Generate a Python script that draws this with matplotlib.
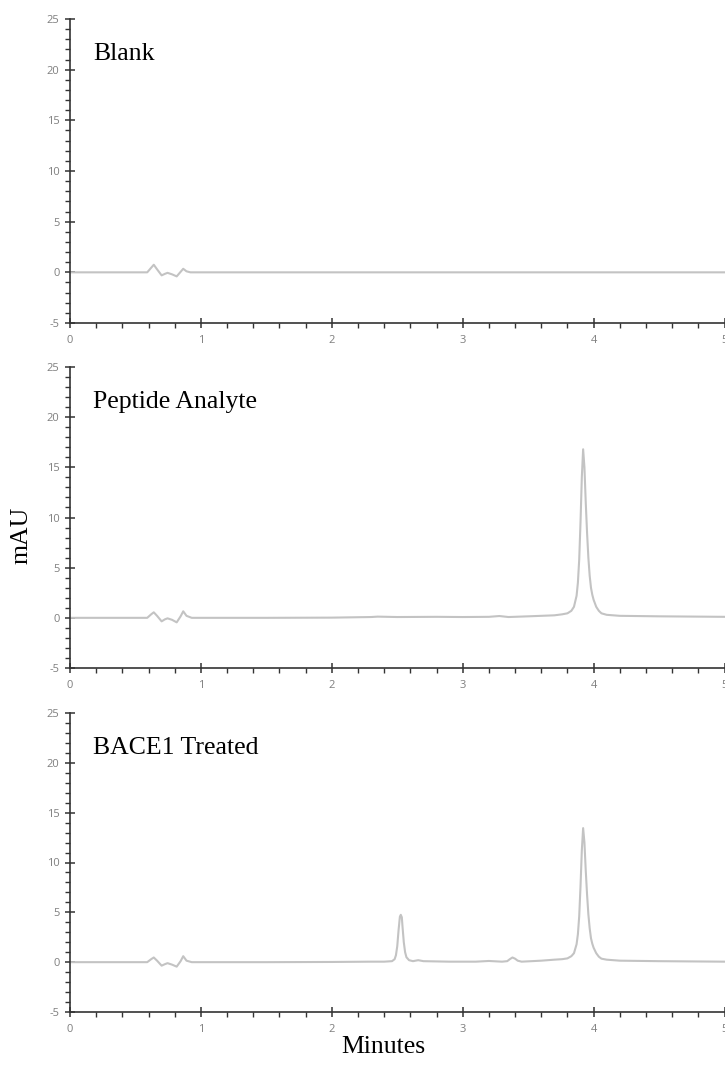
import matplotlib
matplotlib.use("Agg")
import matplotlib.pyplot as plt
from matplotlib.ticker import MultipleLocator

plt.rcParams["axes.unicode_minus"] = False

# ---------------- data ----------------
panel_titles = ["Blank", "Peptide Analyte", "BACE1 Treated"]

blank_t = [0.00, 0.50, 0.59, 0.62, 0.64, 0.665, 0.70, 0.725, 0.745, 0.78, 0.815, 0.845, 0.865, 0.89, 0.92, 1.5, 2.5, 3.5, 4.5, 5.0]
blank_y = [0.00, 0.00, 0.00, 0.45, 0.75, 0.30, -0.30, -0.15, -0.05, -0.20, -0.40, 0.05, 0.35, 0.10, 0.00, 0.00, 0.00, 0.00, 0.00, 0.00]

peptide_t = [0.00, 0.50, 0.59, 0.62, 0.64, 0.665, 0.70, 0.725, 0.745, 0.78, 0.815, 0.845, 0.865, 0.89, 0.93,
             1.5, 2.0, 2.3, 2.35, 2.5, 2.8, 3.0, 3.2, 3.28, 3.35, 3.5, 3.60, 3.70, 3.76, 3.80, 3.83, 3.85,
             3.87, 3.88, 3.89, 3.90, 3.91, 3.92, 3.93, 3.94, 3.95, 3.96, 3.97, 3.98, 3.99, 4.00,
             4.02, 4.04, 4.06, 4.10, 4.20, 4.50, 5.00]
peptide_y = [0.00, 0.00, 0.00, 0.35, 0.55, 0.20, -0.35, -0.15, -0.05, -0.20, -0.45, 0.15, 0.65, 0.20, 0.00,
             0.00, 0.02, 0.08, 0.12, 0.08, 0.10, 0.08, 0.10, 0.18, 0.08, 0.15, 0.20, 0.25, 0.35, 0.45, 0.70, 1.10,
             2.20, 3.50, 5.80, 9.50, 14.00, 16.80, 15.00, 11.50, 8.50, 6.00, 4.20, 3.00, 2.30, 1.80,
             1.10, 0.70, 0.45, 0.30, 0.20, 0.15, 0.10]

bace_t = [0.00, 0.50, 0.59, 0.62, 0.64, 0.665, 0.70, 0.725, 0.745, 0.78, 0.815, 0.845, 0.865, 0.89, 0.93,
          1.5, 2.0, 2.30, 2.40, 2.46, 2.48, 2.49, 2.50, 2.51, 2.52, 2.527, 2.535, 2.54, 2.55, 2.56, 2.57,
          2.59, 2.62, 2.66, 2.70, 2.90, 3.10, 3.20, 3.30, 3.34, 3.36, 3.38, 3.40, 3.42, 3.45, 3.60,
          3.70, 3.76, 3.80, 3.83, 3.85, 3.87, 3.88, 3.89, 3.90, 3.91, 3.92, 3.93, 3.94, 3.95, 3.96,
          3.97, 3.98, 3.99, 4.00, 4.02, 4.04, 4.06, 4.10, 4.20, 4.50, 5.00]
bace_y = [0.00, 0.00, 0.00, 0.30, 0.47, 0.15, -0.35, -0.20, -0.10, -0.25, -0.45, 0.10, 0.60, 0.15, 0.00,
          0.00, 0.02, 0.05, 0.05, 0.10, 0.30, 0.70, 1.60, 3.20, 4.55, 4.75, 4.50, 3.60, 2.00, 1.00, 0.50,
          0.20, 0.10, 0.20, 0.10, 0.05, 0.05, 0.12, 0.05, 0.10, 0.30, 0.47, 0.35, 0.15, 0.05, 0.15,
          0.25, 0.30, 0.38, 0.60, 0.90, 1.80, 2.80, 4.60, 7.60, 11.20, 13.45, 12.00, 9.20, 6.80, 4.80,
          3.40, 2.40, 1.85, 1.45, 0.90, 0.55, 0.35, 0.25, 0.15, 0.10, 0.05]

traces = [(blank_t, blank_y), (peptide_t, peptide_y), (bace_t, bace_y)]

x_major = [0, 1, 2, 3, 4, 5]
y_major = [-5, 0, 5, 10, 15, 20, 25]

# ---------------- figure ----------------
W, H = 725, 1069
fig = plt.figure(figsize=(W / 100, H / 100), dpi=100)

# axes extents in pixels: (top, bottom)
panels_px = [(19, 323), (367, 668), (713, 1012)]
left_px, right_px = 70, 724.5

line_color = "#c3c3c3"
spine_color = "#333333"
tick_label_color = "#7f7f7f"
serif = ["Liberation Serif", "DejaVu Serif"]
sans = ["Open Sans", "DejaVu Sans"]
title_size = 18.5

for i, ((t, y), (top, bot)) in enumerate(zip(traces, panels_px)):
    ax = fig.add_axes([left_px / W, 1 - bot / H, (right_px - left_px) / W, (bot - top) / H])
    ax.plot(t, y, color=line_color, lw=1.5, solid_joinstyle="round")
    ax.set_xlim(0, 5)
    ax.set_ylim(-5, 25)
    ax.set_xticks(x_major)
    ax.set_yticks(y_major)
    ax.xaxis.set_minor_locator(MultipleLocator(0.2))
    ax.yaxis.set_minor_locator(MultipleLocator(1))
    for s in ["top", "right"]:
        ax.spines[s].set_visible(False)
    for s in ["left", "bottom"]:
        ax.spines[s].set_color(spine_color)
        ax.spines[s].set_linewidth(1.2)
    ax.tick_params(which="major", direction="inout", length=7, width=1.1, color=spine_color,
                   labelsize=8, labelcolor=tick_label_color, pad=4)
    ax.tick_params(which="minor", direction="out", length=3.5, width=1.0, color=spine_color)
    ax.tick_params(axis="x", which="major", pad=5)
    for lab in ax.get_xticklabels() + ax.get_yticklabels():
        lab.set_family(sans)
    ax.text(0.035, 1 - 41 / (bot - top), panel_titles[i], transform=ax.transAxes,
            ha="left", va="baseline", fontsize=title_size, family=serif, color="black")

fig.text(383 / W, 1 - 1047 / H, "Minutes", ha="center", va="center",
         fontsize=title_size, family=serif)
fig.text(22 / W, 1 - 535 / H, "mAU", rotation=90, ha="center", va="center",
         fontsize=title_size, family=serif)

fig.savefig("out.png", dpi=100)
